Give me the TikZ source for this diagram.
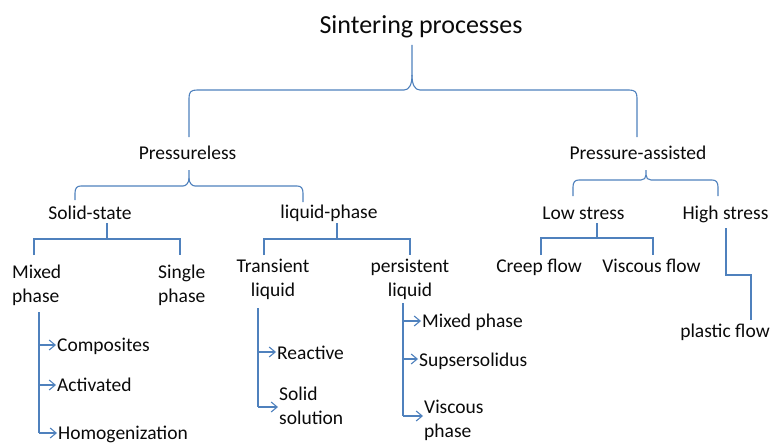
\documentclass[tikz,border=0pt]{standalone}
\usepackage{fontspec}
\setmainfont{Carlito}
\usetikzlibrary{arrows.meta,calc}
\definecolor{lineblue}{RGB}{79,129,189}
\definecolor{txtc}{RGB}{10,10,10}
\newcommand\lblfont{\fontsize{19.5}{24}\selectfont}
\newcommand\ttlfont{\fontsize{26}{30}\selectfont}
\newcommand\twoleft[1]{\begin{tabular}[t]{@{}l@{}}#1\end{tabular}}
\newcommand\twocent[1]{\begin{tabular}[t]{@{}c@{}}#1\end{tabular}}
\tikzset{
  ln/.style={draw=lineblue, line width=1.1pt},
  arr/.style={draw=lineblue, line width=1.1pt, -{Straight Barb[length=6pt,width=10pt,line width=1.1pt]}, shorten >=1pt},
  lbl/.style={font=\lblfont, text=txtc, inner sep=0pt},
}
\begin{document}
\begin{tikzpicture}[x=1pt,y=-1pt]
\useasboundingbox (0,0) rectangle (772,444);
% nodes
\node[lbl, font=\ttlfont, anchor=base] (title) at (421,34) {Sintering processes};
\node[lbl, anchor=base] (pless) at (187.5,160) {Pressureless};
\node[lbl, anchor=base] (passist) at (638,159) {Pressure-assisted};
\node[lbl, anchor=base] (solid) at (90,219) {Solid-state};
\node[lbl, anchor=base] (liquid) at (329,218) {liquid-phase};
\node[lbl, anchor=base] (low) at (583.5,219) {Low stress};
\node[lbl, anchor=base] (high) at (725.5,219) {High stress};
\node[lbl, anchor=base west] (mixed) at (12,278) {\twoleft{Mixed\\phase}};
\node[lbl, anchor=base west] (single) at (158,278) {\twoleft{Single\\phase}};
\node[lbl, anchor=base] (trans) at (273,272) {\twocent{Transient\\liquid}};
\node[lbl, anchor=base] (persist) at (410,272) {\twocent{persistent\\liquid}};
\node[lbl, anchor=base] (creep) at (539,272) {Creep flow};
\node[lbl, anchor=base] (viscf) at (651.5,272) {Viscous flow};
\node[lbl, anchor=base] (plastic) at (725,337) {plastic flow};
\node[lbl, anchor=base west] (comp) at (57,351) {Composites};
\node[lbl, anchor=base west] (act) at (57,391) {Activated};
\node[lbl, anchor=base west] (homog) at (58,439) {Homogenization};
\node[lbl, anchor=base west] (react) at (277,359) {Reactive};
\node[lbl, anchor=base west] (solsol) at (279,400) {\twoleft{Solid\\solution}};
\node[lbl, anchor=base west] (mph) at (422,327) {Mixed phase};
\node[lbl, anchor=base west] (supers) at (419,366) {Supsersolidus};
\node[lbl, anchor=base west] (viscph) at (424,413) {\twoleft{Viscous\\phase}};
% coordinates
\coordinate (b1l) at (189,137);
\coordinate (b1r) at (637,137);
\coordinate (b1t) at (412,45);
\coordinate (b2l) at (75,200);
\coordinate (b2r) at (303,202);
\coordinate (b2t) at (189,170);
\coordinate (b3l) at (573,196);
\coordinate (b3r) at (718,196);
\coordinate (b3t) at (646,170);
% top brace
\draw[ln] (b1l) -- (189,98) .. controls (189,92) and (191,90) .. (197,90) -- (404,90)
  .. controls (409,90) and (412,85) .. (412,75) -- (b1t);
\draw[ln] (b1r) -- (637,98) .. controls (637,92) and (635,90) .. (629,90) -- (420,90)
  .. controls (415,90) and (412,85) .. (412,75);
% pressureless brace
\draw[ln] (b2l) -- (75,193) .. controls (75,188) and (77,186) .. (81,186) -- (183,186)
  .. controls (186,186) and (189,183) .. (189,178) -- (b2t);
\draw[ln] (b2r) -- (303,193) .. controls (303,188) and (301,186) .. (297,186) -- (195,186)
  .. controls (192,186) and (189,183) .. (189,178);
% pressure-assisted brace
\draw[ln] (b3l) -- (573,187) .. controls (573,182) and (575,180) .. (579,180) -- (641,180)
  .. controls (644,180) and (646,178) .. (646,175) -- (b3t);
\draw[ln] (b3r) -- (718,187) .. controls (718,182) and (716,180) .. (712,180) -- (651,180)
  .. controls (648,180) and (646,178) .. (646,175);
% solid-state tree
\coordinate (s0) at (107,223); \coordinate (s1) at (107,239);
\coordinate (s2) at (34,255); \coordinate (s3) at (180,255);
\draw[ln] (s0) -- (s1);
\draw[ln] (s2) -- (34,239) -- (180,239) -- (s3);
% liquid-phase tree
\coordinate (l0) at (337,223); \coordinate (l1) at (337,239);
\coordinate (l2) at (264,255); \coordinate (l3) at (410,255);
\draw[ln] (l0) -- (l1);
\draw[ln] (l2) -- (264,239) -- (410,239) -- (l3);
% low stress tree
\coordinate (w0) at (597,223); \coordinate (w1) at (597,238);
\coordinate (w2) at (541,255); \coordinate (w3) at (653,255);
\draw[ln] (w0) -- (w1);
\draw[ln] (w2) -- (541,238) -- (653,238) -- (w3);
% high stress
\coordinate (h0) at (726,228); \coordinate (h1) at (751,320);
\draw[ln] (h0) -- (726,275) -- (751,275) -- (h1);
% mixed phase list
\coordinate (m0) at (39,312); \coordinate (m1) at (39,345);
\coordinate (m2) at (39,385); \coordinate (m3) at (39,433);
\draw[ln] (m0) -- (m3);
\draw[arr] (m1) -- (m1 -| comp.west);
\draw[arr] (m2) -- (m2 -| act.west);
\draw[arr] (m3) -- (m3 -| homog.west);
% transient list
\coordinate (t0) at (258,308); \coordinate (t1) at (258,352); \coordinate (t2) at (258,407);
\draw[ln] (t0) -- (t2);
\draw[arr] (t1) -- (t1 -| react.west);
\draw[arr] (t2) -- (t2 -| solsol.west);
% persistent list
\coordinate (p0) at (403,303); \coordinate (p1) at (403,321);
\coordinate (p2) at (403,359); \coordinate (p3) at (403,416);
\draw[ln] (p0) -- (p3);
\draw[arr] (p1) -- (p1 -| mph.west);
\draw[arr] (p2) -- (p2 -| supers.west);
\draw[arr] (p3) -- (p3 -| viscph.west);
\end{tikzpicture}
\end{document}
